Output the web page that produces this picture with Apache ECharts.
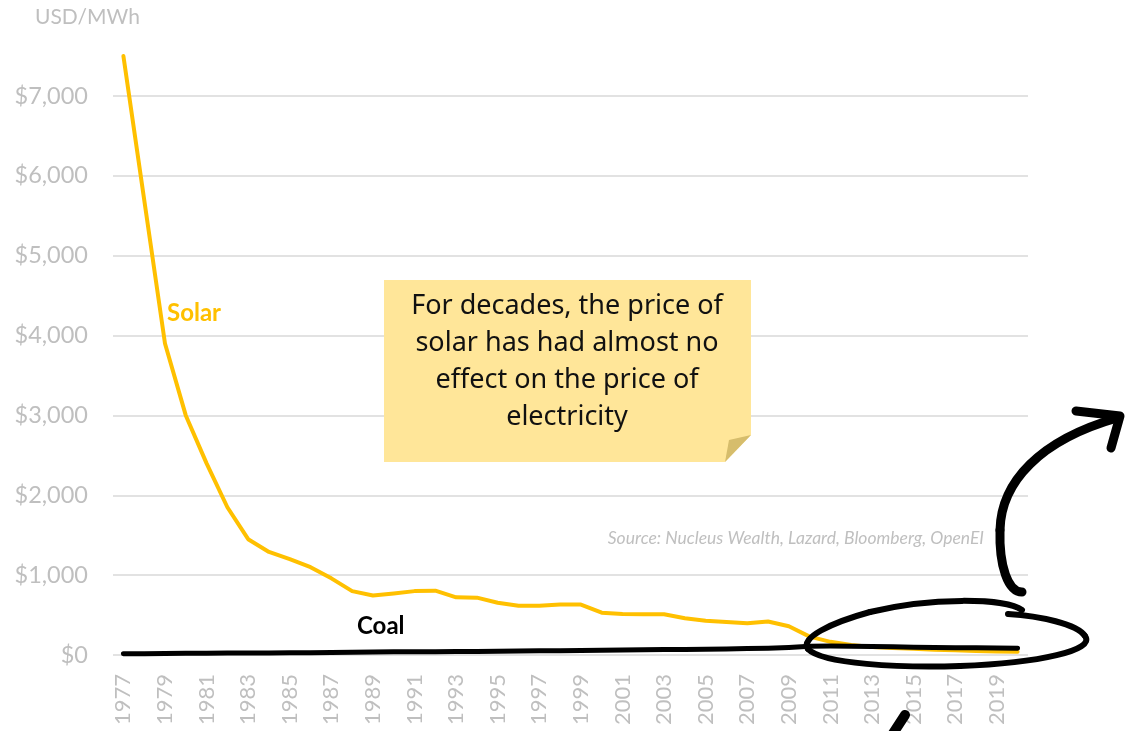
<!DOCTYPE html>
<html>
<head>
<meta charset="utf-8">
<title>Solar vs Coal price, USD/MWh</title>
<script src="https://cdn.jsdelivr.net/npm/echarts@6/dist/echarts.min.js"></script>
<style>
  html, body { margin: 0; padding: 0; background: #ffffff; }
  #chart { width: 1130px; height: 731px; }
</style>
</head>
<body>
<div id="chart"></div>
<script>
// Years on the category axis
const years = ['1977','1978','1979','1980','1981','1982','1983','1984','1985','1986',
  '1987','1988','1989','1990','1991','1992','1993','1994','1995','1996',
  '1997','1998','1999','2000','2001','2002','2003','2004','2005','2006',
  '2007','2008','2009','2010','2011','2012','2013','2014','2015','2016',
  '2017','2018','2019','2020'];

// Levelised price of solar, USD/MWh
const solar = [7500, 5700, 3900, 3000, 2400, 1850, 1450, 1290, 1200, 1100,
  960, 800, 745, 770, 800, 805, 722, 718, 655, 617,
  617, 632, 632, 530, 512, 510, 510, 460, 430, 413,
  397, 420, 360, 230, 165, 125, 100, 88, 78, 65,
  58, 50, 45, 40];

// Levelised price of coal, USD/MWh
const coal = [15, 17, 19, 21, 23, 24, 25, 26, 27, 28,
  30, 35, 38, 40, 41, 42, 43, 45, 48, 50,
  52, 54, 56, 60, 63, 65, 68, 70, 72, 75,
  80, 85, 95, 110, 112, 110, 106, 102, 98, 95,
  92, 90, 88, 86];

const yTickValues = [0, 1000, 2000, 3000, 4000, 5000, 6000, 7000];

const noteLines = [
  'For decades, the price of',
  'solar has had almost no',
  'effect on the price of',
  'electricity'
];
const sourceText = 'Source: Nucleus Wealth, Lazard, Bloomberg, OpenEI';

const axisGray = '#bfbfbf';
const gridGray = '#d9d9d9';
const solarColor = '#FFC000';

const chart = echarts.init(document.getElementById('chart'), null, { renderer: 'canvas' });

// marker-pen stroke helpers for the hand-drawn annotations
const pen = w => ({ fill: 'none', stroke: '#000000', lineWidth: w, lineCap: 'round', lineJoin: 'round' });
const curve = (p0, c1, c2, p1, w) => ({
  type: 'bezierCurve', z: 20,
  shape: { x1: p0[0], y1: p0[1], cpx1: c1[0], cpy1: c1[1], cpx2: c2[0], cpy2: c2[1], x2: p1[0], y2: p1[1] },
  style: pen(w)
});

const option = {
  backgroundColor: '#ffffff',
  animation: false,
  grid: {
    left: 113, right: 102, top: 96, bottom: 76,
    containLabel: false,
    outerBoundsMode: 'none'
  },
  xAxis: {
    type: 'category',
    data: years,
    boundaryGap: true,
    axisLine: { show: false },
    axisTick: { show: false },
    axisLabel: {
      interval: 1,
      rotate: 90,
      margin: 19,
      color: axisGray,
      fontFamily: 'Lato',
      fontSize: 22
    },
    splitLine: { show: false }
  },
  yAxis: {
    type: 'value',
    min: yTickValues[0],
    max: yTickValues[yTickValues.length - 1],
    interval: 1000,
    axisLine: { show: false },
    axisTick: { show: false },
    axisLabel: {
      margin: 25,
      color: axisGray,
      fontFamily: 'Lato',
      fontSize: 23.5,
      formatter: v => '$' + v.toLocaleString('en-US')
    },
    splitLine: { show: true, lineStyle: { color: gridGray, width: 1.5 } }
  },
  series: [
    {
      name: 'Solar',
      type: 'line',
      data: solar,
      clip: false,
      symbol: 'none',
      lineStyle: { color: solarColor, width: 4, join: 'round', cap: 'round' },
      z: 3
    },
    {
      name: 'Coal',
      type: 'line',
      data: coal,
      clip: false,
      symbol: 'none',
      lineStyle: { color: '#000000', width: 5, join: 'round', cap: 'round' },
      z: 4
    }
  ],
  graphic: [
    // unit label
    {
      type: 'text', x: 35, y: 17,
      style: { text: 'USD/MWh', fill: axisGray, fontFamily: 'Lato', fontSize: 21, verticalAlign: 'middle' }
    },
    // series labels
    {
      type: 'text', x: 167, y: 313,
      style: { text: 'Solar', fill: solarColor, fontFamily: 'Lato', fontWeight: 'bold', fontSize: 24, verticalAlign: 'middle' }
    },
    {
      type: 'text', x: 357, y: 626,
      style: { text: 'Coal', fill: '#000000', fontFamily: 'Lato', fontWeight: 'bold', fontSize: 24, verticalAlign: 'middle' }
    },
    // source note
    {
      type: 'text', x: 984, y: 538,
      style: {
        text: sourceText, fill: axisGray, fontFamily: 'Lato', fontStyle: 'italic', fontSize: 17.5,
        align: 'right', verticalAlign: 'middle'
      }
    },
    // sticky note
    {
      type: 'polygon', z: 10,
      shape: { points: [[384, 280], [751, 280], [751, 435], [725, 462], [384, 462]] },
      style: { fill: '#FFE699' }
    },
    {
      type: 'polygon', z: 11,
      shape: { points: [[725, 462], [729, 440], [751, 435]] },
      style: { fill: '#D6BD6C' }
    },
    {
      type: 'text', z: 12, x: 567, y: 288,
      style: {
        text: noteLines.join('\n'), fill: '#111111', fontFamily: 'Noto Sans', fontSize: 27,
        align: 'center', verticalAlign: 'top', lineHeight: 37
      }
    },
    // hand-drawn ring around the recent years
    curve([1022, 610], [1005, 598], [930, 597], [870, 612], 6),
    curve([870, 612], [830, 623], [800, 638], [808, 649], 6),
    curve([808, 649], [822, 664], [900, 668], [960, 666], 6),
    curve([960, 666], [1040, 663], [1096, 650], [1085, 636], 6),
    curve([1085, 636], [1077, 624], [1040, 616], [1008, 614], 6),
    // upward arrow
    curve([1022, 592], [1008, 592], [999, 566], [1000, 530], 9),
    curve([1000, 530], [1001, 482], [1040, 440], [1117, 418], 9),
    {
      type: 'polyline', z: 20,
      shape: { points: [[1076, 411], [1120, 416], [1111, 448]] },
      style: pen(9)
    },
    {
      type: 'line', z: 20,
      shape: { x1: 905, y1: 715, x2: 892, y2: 735 },
      style: pen(10)
    }
  ]
};

chart.setOption(option);
</script>
</body>
</html>
